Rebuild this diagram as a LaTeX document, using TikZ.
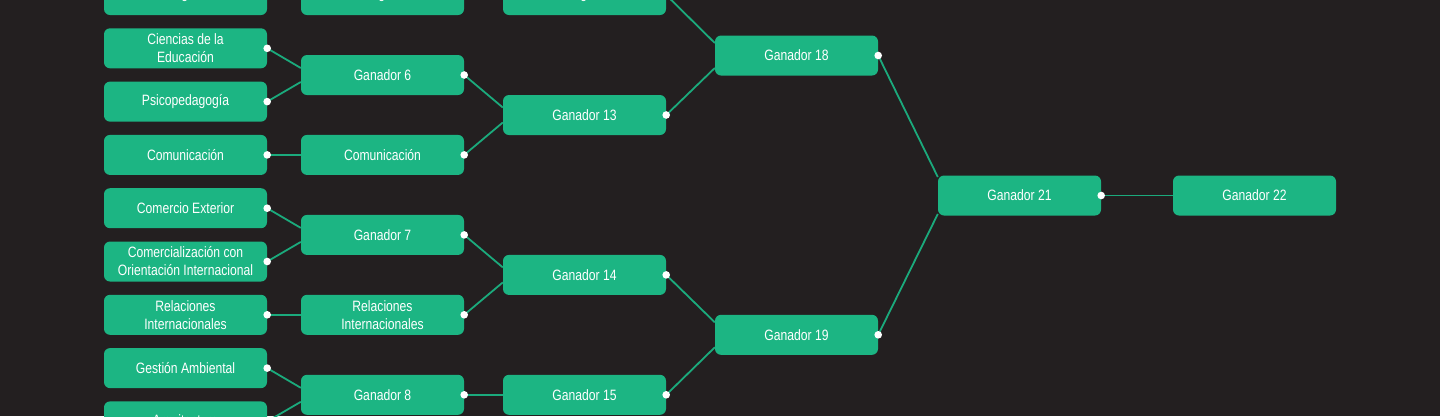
\documentclass[tikz,border=0pt]{standalone}
\usepackage{fontspec}
\newfontfamily\condfont[FakeStretch=0.81]{Liberation Sans}
\usetikzlibrary{calc}
\definecolor{bg}{HTML}{231F20}
\definecolor{boxgreen}{HTML}{1CB583}
\definecolor{linegreen}{HTML}{1BAA7C}
\tikzset{
  box/.style={rectangle, rounded corners=6pt, fill=boxgreen, minimum width=163pt,
    minimum height=40pt, inner sep=0pt, text=white, align=center,
    font=\condfont\fontsize{15}{18}\selectfont},
  conn/.style={draw=linegreen, line width=1.8pt},
  knob/.style={fill=white, draw=none}
}
\begin{document}
\begin{tikzpicture}[x=1pt,y=-1pt]
\useasboundingbox (0,0) rectangle (1440,416);
\clip (0,0) rectangle (1440,416);
\fill[bg] (0,0) rectangle (1440,416);
% column 1
\node[box] (a0) at (185.5,-5) {Abogacía};
\node[box] (a1) at (185.5,48.3) {Ciencias de la\\Educación};
\node[box] (a2) at (185.5,101.6) {Psicopedagogía};
\node[box] (a3) at (185.5,154.9) {Comunicación};
\node[box] (a4) at (185.5,208.2) {Comercio Exterior};
\node[box] (a5) at (185.5,261.5) {Comercialización con\\Orientación Internacional};
\node[box] (a6) at (185.5,314.8) {Relaciones\\Internacionales};
\node[box] (a7) at (185.5,368.1) {Gestión Ambiental};
\node[box] (a8) at (185.5,421.4) {Arquitectura};
% column 2
\node[box] (b0) at (382.5,-5) {Abogacía};
\node[box] (b1) at (382.5,75) {Ganador 6};
\node[box] (b2) at (382.5,154.9) {Comunicación};
\node[box] (b3) at (382.5,234.9) {Ganador 7};
\node[box] (b4) at (382.5,314.8) {Relaciones\\Internacionales};
\node[box] (b5) at (382.5,394.8) {Ganador 8};
% column 3
\node[box] (c0) at (584.5,-5) {Abogacía};
\node[box] (c1) at (584.5,115) {Ganador 13};
\node[box] (c2) at (584.5,274.9) {Ganador 14};
\node[box] (c3) at (584.5,394.8) {Ganador 15};
% column 4
\node[box] (d1) at (796.5,55.5) {Ganador 18};
\node[box] (d2) at (796.5,334.8) {Ganador 19};
% column 5
\node[box] (e1) at (1019.5,195.5) {Ganador 21};
% column 6
\node[box] (f1) at (1254.5,195.5) {Ganador 22};
% connectors col1 -> col2
\draw[conn] (a0.east) -- (b0.west);
\draw[conn] (a1.east) -- ($(b1.west)+(0,-7)$);
\draw[conn] (a2.east) -- ($(b1.west)+(0,7)$);
\draw[conn] (a3.east) -- (b2.west);
\draw[conn] (a4.east) -- ($(b3.west)+(0,-7)$);
\draw[conn] (a5.east) -- ($(b3.west)+(0,7)$);
\draw[conn] (a6.east) -- (b4.west);
\draw[conn] (a7.east) -- ($(b5.west)+(0,-7)$);
\draw[conn] (a8.east) -- ($(b5.west)+(0,7)$);
% col2 -> col3
\draw[conn] (b0.east) -- (c0.west);
\draw[conn] (b1.east) -- ($(c1.west)+(0,-7.5)$);
\draw[conn] (b2.east) -- ($(c1.west)+(0,7.5)$);
\draw[conn] (b3.east) -- ($(c2.west)+(0,-7.5)$);
\draw[conn] (b4.east) -- ($(c2.west)+(0,7.5)$);
\draw[conn] (b5.east) -- (c3.west);
% col3 -> col4
\draw[conn] (c0.east) -- ($(d1.west)+(0,-12.5)$);
\draw[conn] (c1.east) -- ($(d1.west)+(0,12.5)$);
\draw[conn] (c2.east) -- ($(d2.west)+(0,-12.5)$);
\draw[conn] (c3.east) -- ($(d2.west)+(0,12.5)$);
% col4 -> col5
\draw[conn] (d1.east) -- ($(e1.west)+(0,-18.5)$);
\draw[conn] (d2.east) -- ($(e1.west)+(0,18.5)$);
% col5 -> col6
\draw[conn] (e1.east) -- (f1.west);
% knobs
\foreach \n in {a0,a1,a2,a3,a4,a5,a6,a7,a8,b0,b1,b2,b3,b4,b5,c0,c1,c2,c3,d1,d2,e1}
  \fill[knob] (\n.east) circle (3.8pt);
\end{tikzpicture}
\end{document}
